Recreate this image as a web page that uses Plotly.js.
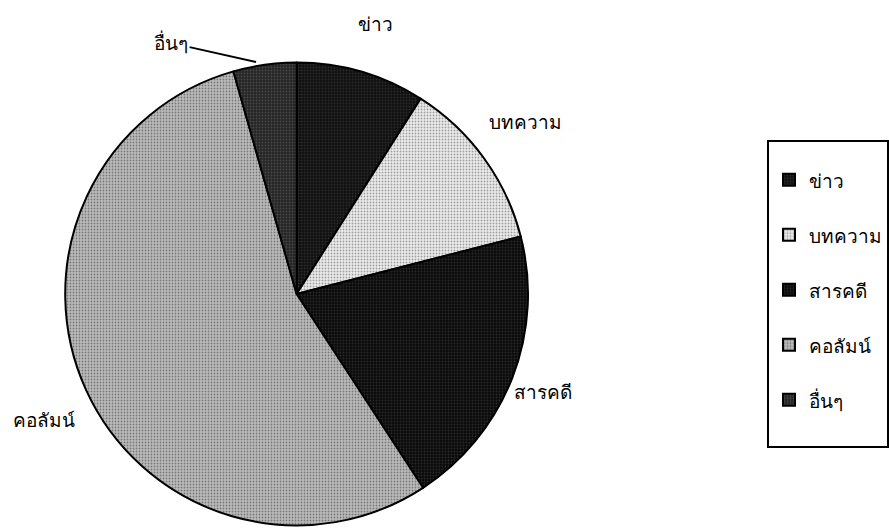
<!DOCTYPE html>
<html><head><meta charset="utf-8">
<script src="https://cdn.plot.ly/plotly-3.0.1.min.js"></script>
<style>html,body{margin:0;padding:0;background:#fff}#chart{width:889px;height:532px}</style>
</head><body><div id="chart"></div>
<script>
const categories = ['ข่าว', 'บทความ', 'สารคดี', 'คอลัมน์', 'อื่นๆ'];
const shares = [9.0, 12.0, 19.8, 54.8, 4.4];

const bgColors = ['#101010', '#ececec', '#0a0a0a', '#bcbcbc', '#242424'];
const fgColors = ['#2c2c2c', '#a0a0a0', '#2a2a2a', '#7a7a7a', '#4a4a4a'];

const FONT = 'Noto Sans, DejaVu Sans, sans-serif';

const legendLabels = categories.map(c => '<span style="font-size:19px">' + c + '</span><br>&nbsp;');

const trace = {
  type: 'pie',
  labels: legendLabels,
  values: shares,
  sort: false,
  direction: 'clockwise',
  rotation: 0,
  textinfo: 'none',
  hoverinfo: 'percent',
  domain: {x: [0.0742, 0.6007], y: [0.0075, 0.8872]},
  marker: {
    colors: bgColors,
    line: {color: '#000', width: 2},
    pattern: {shape: '.', fgcolor: fgColors, bgcolor: bgColors, size: 3, solidity: 0.3}
  }
};

const lblFont = {family: FONT, size: 19, color: '#000'};

const layout = {
  width: 889, height: 532,
  margin: {l: 0, r: 0, t: 0, b: 0},
  paper_bgcolor: '#fff',
  font: {family: FONT, color: '#000', size: 19},
  showlegend: true,
  legend: {
    x: 776/889, y: 1 - 140/532, xanchor: 'left', yanchor: 'top',
    bordercolor: '#000', borderwidth: 2,
    font: {family: FONT, size: 20, color: '#000'},
    valign: 'top',
    title: {text: '&nbsp;', font: {family: FONT, size: 14}},
    traceorder: 'normal'
  },
  annotations: [
    {text: categories[0], xref: 'paper', yref: 'paper', x: 380/889, y: 1 - 24/532, xanchor: 'center', yanchor: 'middle', showarrow: false, font: lblFont},
    {text: categories[1], xref: 'paper', yref: 'paper', x: 531/889, y: 1 - 122/532, xanchor: 'center', yanchor: 'middle', showarrow: false, font: lblFont},
    {text: categories[2], xref: 'paper', yref: 'paper', x: 518/889, y: 1 - 392/532, xanchor: 'left', yanchor: 'middle', showarrow: false, font: lblFont},
    {text: categories[3], xref: 'paper', yref: 'paper', x: 45/889, y: 1 - 420/532, xanchor: 'center', yanchor: 'middle', showarrow: false, font: lblFont},
    {text: categories[4], xref: 'paper', yref: 'paper', x: 259/889, y: 1 - 62/532,
     showarrow: true, arrowhead: 0, arrowwidth: 1.8, arrowcolor: '#000', ax: -85, ay: -19, font: lblFont}
  ]
};

Plotly.newPlot('chart', [trace], layout, {displayModeBar: false, staticPlot: true});
</script>
</body></html>
